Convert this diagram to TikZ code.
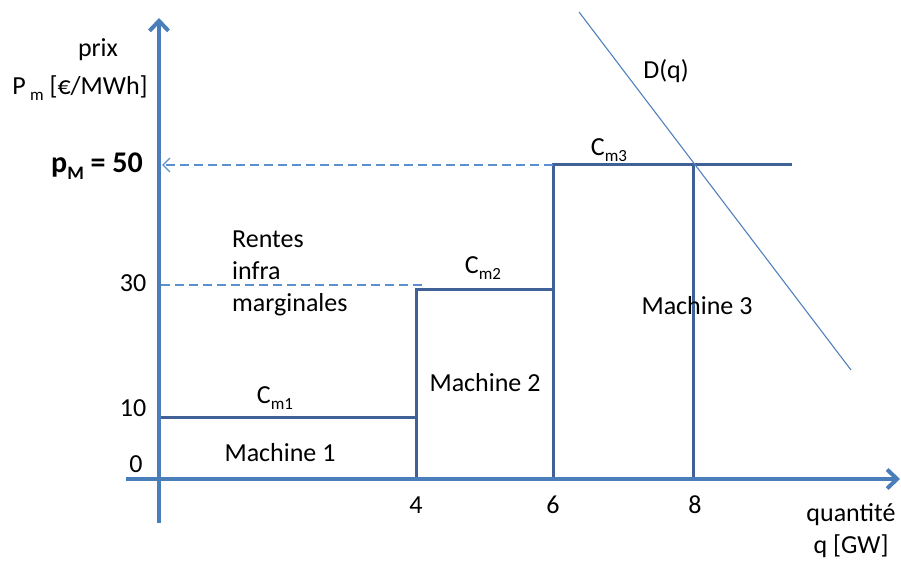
\documentclass[tikz,border=0pt]{standalone}
\usepackage{fontspec}
\setmainfont{Carlito}
\usetikzlibrary{arrows.meta}
\definecolor{axisblue}{HTML}{4A7EBB}
\definecolor{stepblue}{HTML}{3F6198}
\definecolor{dashblue}{HTML}{5B8FD0}
\definecolor{demandblue}{HTML}{4F81BD}
\newcommand\lowsub[1]{\raisebox{-0.45ex}{\fontsize{17}{17}\selectfont #1}}
\begin{document}
\begin{tikzpicture}[x=1pt,y=-1pt,
  txt/.style={inner sep=0pt, font=\fontsize{26}{32}\selectfont},
  axisline/.style={axisblue, line width=4pt,
    -{Straight Barb[length=10pt,width=19pt,line width=4pt]}},
  stairs/.style={stepblue, line width=3pt},
  guide/.style={dashblue, line width=1.3pt, dash pattern=on 9pt off 5pt},
  demand/.style={demandblue, line width=1.1pt}]
\path[use as bounding box] (0,0) rectangle (901,561);

% key points of the supply curve
\coordinate (o) at (159,479);
\coordinate (q4) at (416,479);
\coordinate (q6) at (553,479);
\coordinate (q8) at (693,479);
\coordinate (c1) at (159,417);
\coordinate (c1r) at (416,417);
\coordinate (c2l) at (416,289);
\coordinate (c2r) at (553,289);
\coordinate (c3l) at (553,165);
\coordinate (c3e) at (693,165);
\coordinate (c3r) at (792,165);

% supply staircase
\draw[stairs] (c1) -- (c1r);
\draw[stairs] (q4) -- (c2l) -- (c2r);
\draw[stairs] (q6) -- (c3l) -- (c3r);
\draw[stairs] (c3e) -- (q8);

% demand curve
\coordinate (d0) at (579,12);
\coordinate (d1) at (851,370);
\draw[demand] (d0) -- (d1);

% guide lines
\coordinate (g30a) at (161,285);
\coordinate (g30b) at (425,285);
\draw[guide] (g30a) -- (g30b);
\coordinate (g50) at (162,165);
\draw[guide, -{Straight Barb[length=7pt,width=14pt,line width=1.3pt]}] (c3l) -- (g50);

% axes
\coordinate (ybot) at (159,523);
\coordinate (ytop) at (159,18);
\coordinate (xl) at (126,479);
\coordinate (xr) at (900,479);
\draw[axisline] (ybot) -- (ytop);
\draw[axisline] (xl) -- (xr);

% axis titles
\node[txt] (prix) at (98,50) {prix};
\node[txt] (unit) at (80,88) {P\,\lowsub{m} [€/MWh]};
\node[txt, align=center] (qty) at (851,531) {quantité\\q [GW]};

% tick labels
\node[txt, font=\fontsize{30}{34}\selectfont\bfseries] (pM) at (97,166) {p\raisebox{-0.5ex}{\fontsize{19}{19}\selectfont\bfseries M} = 50};
\node[txt] (t30) at (133,283) {30};
\node[txt] (t10) at (133,408) {10};
\node[txt] (t0) at (136,464) {0};
\node[txt] (t4) at (416,505) {4};
\node[txt] (t6) at (553,505) {6};
\node[txt] (t8) at (695,505) {8};

% marginal cost labels
\node[txt] (cm1) at (275,398) {C\lowsub{m1}};
\node[txt] (cm2) at (483,268) {C\lowsub{m2}};
\node[txt] (cm3) at (609,150) {C\lowsub{m3}};

% machines
\node[txt] (m1) at (280,453) {Machine 1};
\node[txt] (m2) at (485,383) {Machine 2};
\node[txt] (m3) at (697,306) {Machine 3};

% rents and demand
\node[txt, align=left, anchor=west] (rentes) at (232,273) {Rentes\\infra\\marginales};
\node[txt] (dq) at (666,71) {D(q)};
\end{tikzpicture}
\end{document}
